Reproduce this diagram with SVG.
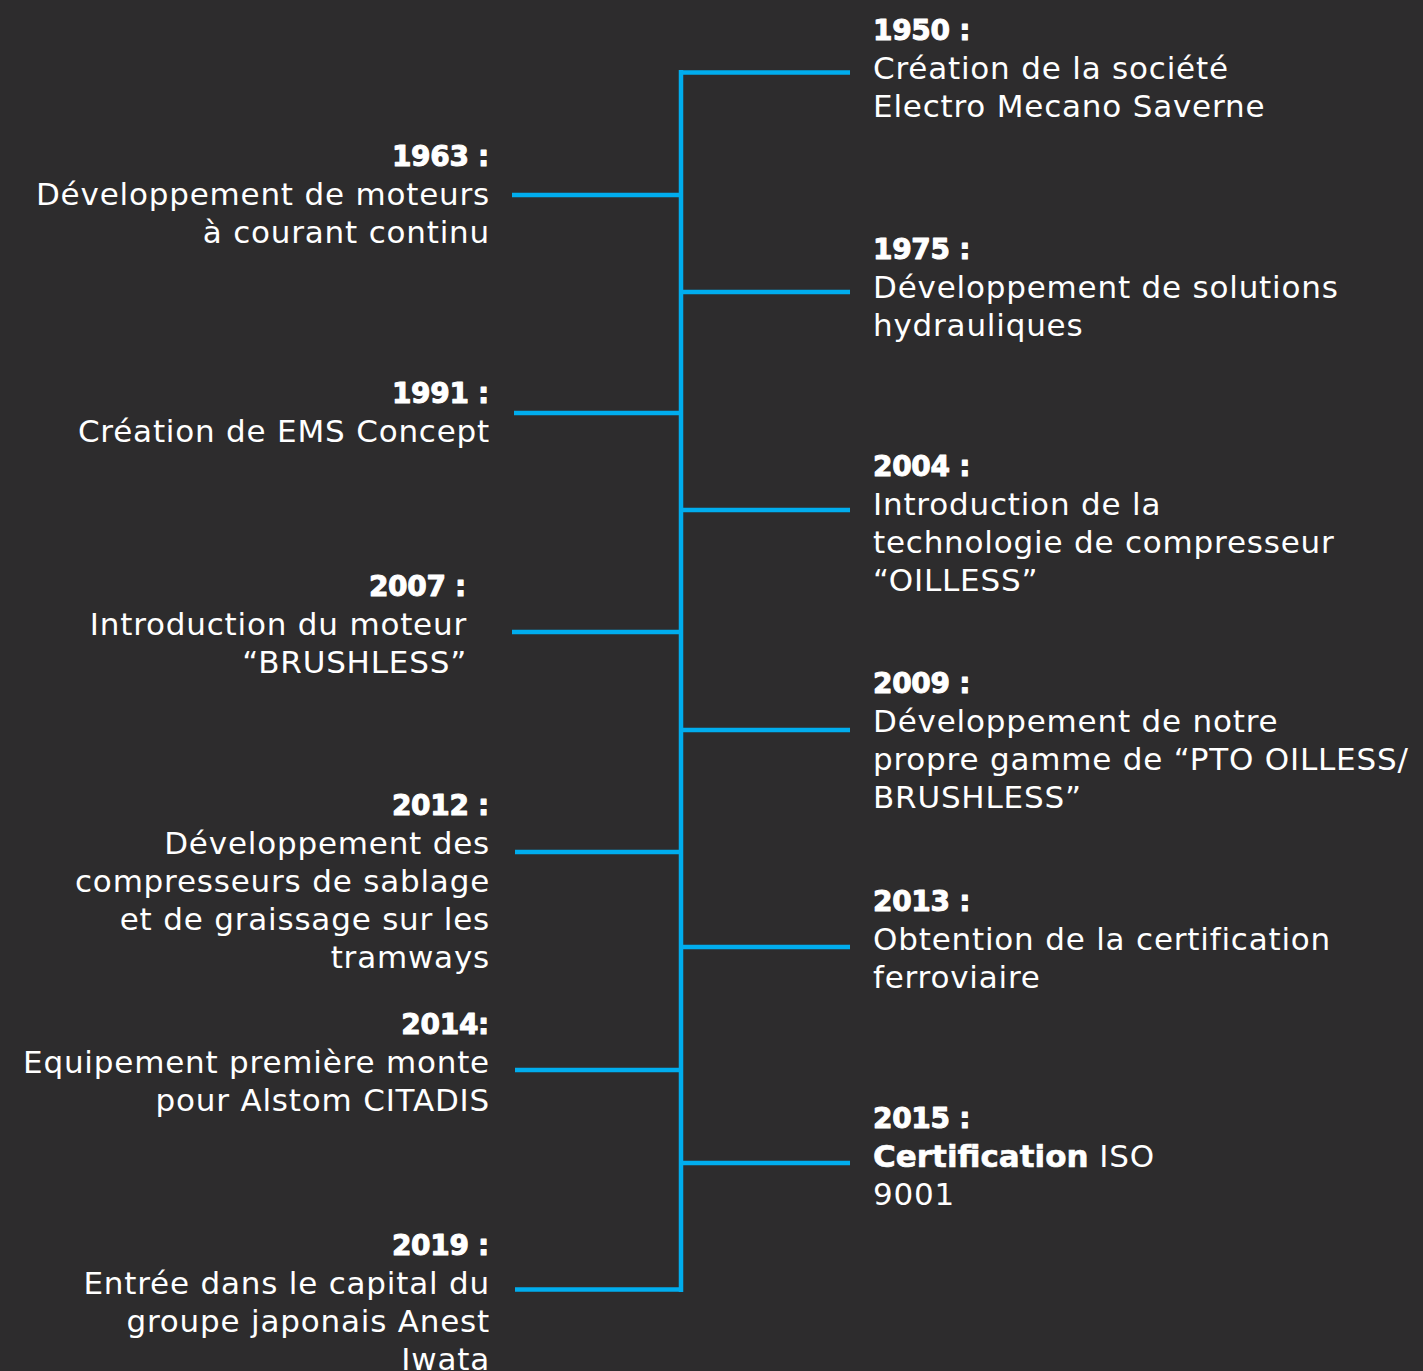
<svg xmlns="http://www.w3.org/2000/svg" width="1423" height="1371" viewBox="0 0 1423 1371">
<style>
.yr{font-family:"DejaVu Sans",sans-serif;font-weight:bold;font-size:28px;letter-spacing:-0.3px;fill:#ffffff;stroke:#ffffff;stroke-width:1;stroke-linejoin:round}
.tx{font-family:"DejaVu Sans",sans-serif;font-size:31px;letter-spacing:0.8px;fill:#ffffff}
.b{font-weight:bold;letter-spacing:0;stroke:#ffffff;stroke-width:0.6}
.l{text-anchor:end}
.ln{stroke:#00adee;stroke-width:4.5;fill:none}
</style>
<rect width="1423" height="1371" fill="#2d2c2d"/>
<g id="connectors">
<line class="ln" x1="681" y1="70" x2="681" y2="1292"/>
<line class="ln" x1="679" y1="72.5" x2="850" y2="72.5"/>
<line class="ln" x1="681" y1="292" x2="850" y2="292"/>
<line class="ln" x1="681" y1="510" x2="850" y2="510"/>
<line class="ln" x1="681" y1="730" x2="850" y2="730"/>
<line class="ln" x1="681" y1="947" x2="850" y2="947"/>
<line class="ln" x1="681" y1="1163" x2="850" y2="1163"/>
<line class="ln" x1="512" y1="195" x2="681" y2="195"/>
<line class="ln" x1="514" y1="413" x2="681" y2="413"/>
<line class="ln" x1="512" y1="632" x2="681" y2="632"/>
<line class="ln" x1="515" y1="852" x2="681" y2="852"/>
<line class="ln" x1="515" y1="1070" x2="681" y2="1070"/>
<line class="ln" x1="515" y1="1289.5" x2="683" y2="1289.5"/>
</g>
<g id="e1950">
<text class="yr" x="873" y="40">1950 :</text>
<text class="tx" x="873" y="79">Création de la société</text>
<text class="tx" x="873" y="117">Electro Mecano Saverne</text>
</g>
<g id="e1975">
<text class="yr" x="873" y="259">1975 :</text>
<text class="tx" x="873" y="298">Développement de solutions</text>
<text class="tx" x="873" y="336">hydrauliques</text>
</g>
<g id="e2004">
<text class="yr" x="873" y="476">2004 :</text>
<text class="tx" x="873" y="515">Introduction de la</text>
<text class="tx" x="873" y="553">technologie de compresseur</text>
<text class="tx" x="873" y="591">“OILLESS”</text>
</g>
<g id="e2009">
<text class="yr" x="873" y="693">2009 :</text>
<text class="tx" x="873" y="732">Développement de notre</text>
<text class="tx" x="873" y="770">propre gamme de “PTO OILLESS/</text>
<text class="tx" x="873" y="808">BRUSHLESS”</text>
</g>
<g id="e2013">
<text class="yr" x="873" y="911">2013 :</text>
<text class="tx" x="873" y="950">Obtention de la certification</text>
<text class="tx" x="873" y="988">ferroviaire</text>
</g>
<g id="e2015">
<text class="yr" x="873" y="1128">2015 :</text>
<text class="tx" x="873" y="1167"><tspan class="b">Certification</tspan> ISO</text>
<text class="tx" x="873" y="1205">9001</text>
</g>
<g id="e1963">
<text class="yr l" x="489" y="166">1963 :</text>
<text class="tx l" x="490" y="205">Développement de moteurs</text>
<text class="tx l" x="490" y="243">à courant continu</text>
</g>
<g id="e1991">
<text class="yr l" x="489" y="403">1991 :</text>
<text class="tx l" x="490" y="442">Création de EMS Concept</text>
</g>
<g id="e2007">
<text class="yr l" x="466" y="596">2007 :</text>
<text class="tx l" x="467" y="635">Introduction du moteur</text>
<text class="tx l" x="467" y="673">“BRUSHLESS”</text>
</g>
<g id="e2012">
<text class="yr l" x="489" y="815">2012 :</text>
<text class="tx l" x="490" y="854">Développement des</text>
<text class="tx l" x="490" y="892">compresseurs de sablage</text>
<text class="tx l" x="490" y="930">et de graissage sur les</text>
<text class="tx l" x="490" y="968">tramways</text>
</g>
<g id="e2014">
<text class="yr l" x="489" y="1034">2014:</text>
<text class="tx l" x="490" y="1073">Equipement première monte</text>
<text class="tx l" x="490" y="1111">pour Alstom CITADIS</text>
</g>
<g id="e2019">
<text class="yr l" x="489" y="1255">2019 :</text>
<text class="tx l" x="490" y="1294">Entrée dans le capital du</text>
<text class="tx l" x="490" y="1332">groupe japonais Anest</text>
<text class="tx l" x="490" y="1370">Iwata</text>
</g>
</svg>
